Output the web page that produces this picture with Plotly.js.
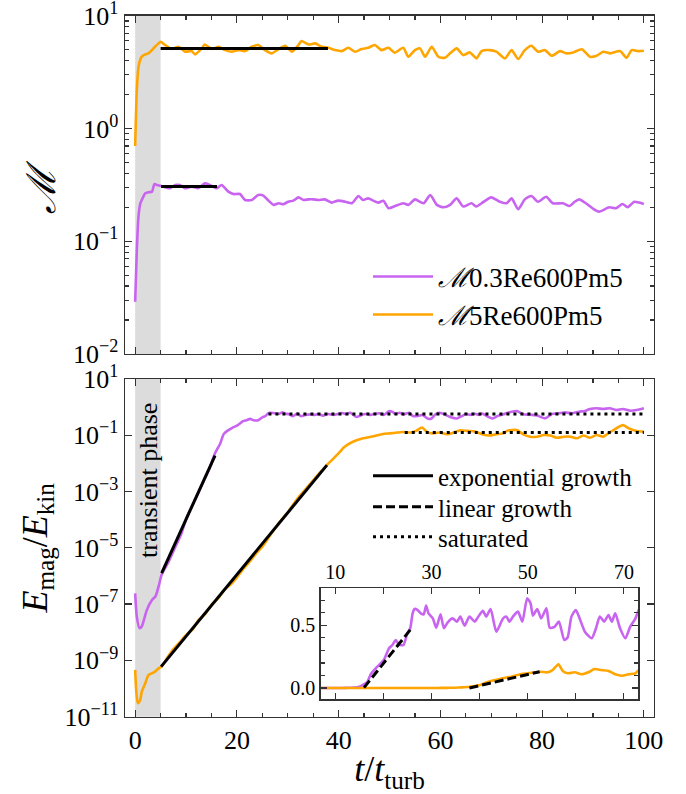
<!DOCTYPE html>
<html><head><meta charset="utf-8">
<script src="https://cdn.plot.ly/plotly-3.0.1.min.js"></script>
<style>html,body{margin:0;padding:0;background:#fff;}#plot{width:686px;height:794px;}</style>
</head><body><div id="plot"></div>
<script>
// ---------- Top panel: Mach number ----------
const tM03 = [0,0.33,0.65,1.0,1.3,2.0,2.6,3.3,3.8,4.3,5.0,5.9,6.9,7.9,8.8,9.8,11.1,12.4,13.7,14.7,16.0,17.0,18.3,19.3,20.6,21.6,22.9,24.2,25.2,26.2,27.2,28.2,29.1,30.1,31.1,32.1,33.1,34.1,35.0,36.0,37.3,38.6,39.9,41.3,42.6,43.9,44.8,45.8,46.8,47.8,48.8,49.8,51.1,52.7,53.7,55.0,56.7,58.0,59.3,60.6,61.9,63.2,64.5,66.1,67.1,68.1,70.0,71.7,73.0,74.0,75.3,76.6,77.9,79.2,80.8,82.1,84.1,85.4,86.4,87.3,88.6,89.9,91.2,93.2,94.5,95.8,96.8,98.1,99.1,100.0];
const M03 = [0.029,0.084,0.165,0.215,0.232,0.266,0.272,0.275,0.322,0.315,0.310,0.301,0.295,0.315,0.315,0.295,0.305,0.295,0.326,0.315,0.295,0.315,0.275,0.262,0.262,0.232,0.232,0.257,0.254,0.229,0.210,0.217,0.213,0.224,0.229,0.245,0.232,0.235,0.235,0.232,0.235,0.220,0.229,0.224,0.217,0.252,0.232,0.240,0.229,0.220,0.228,0.196,0.205,0.217,0.210,0.235,0.217,0.257,0.210,0.200,0.210,0.240,0.203,0.217,0.203,0.217,0.245,0.224,0.217,0.240,0.192,0.235,0.252,0.224,0.248,0.217,0.217,0.205,0.224,0.235,0.217,0.196,0.183,0.200,0.196,0.214,0.200,0.224,0.220,0.214];
const tM5 = [0,0.33,0.65,1.0,1.3,2.0,2.6,3.3,3.9,4.6,5.0,5.9,7.2,8.5,9.8,11.1,11.8,13.1,13.7,15.1,16.4,17.7,19.0,20.3,21.6,22.9,24.2,25.5,26.8,28.2,29.5,30.8,32.1,32.7,34.1,35.4,36.7,38.0,39.3,40.6,41.9,43.2,44.5,45.8,47.1,48.4,49.8,51.0,52.7,53.7,55.0,56.0,57.0,58.3,59.6,60.9,61.9,63.2,64.5,65.8,67.1,68.1,69.7,71.0,72.7,74.0,75.3,76.6,77.9,79.2,80.5,81.9,83.5,84.8,86.1,87.8,89.4,90.7,92.0,93.4,95.3,96.6,97.6,98.9,100.0];
const M5 = [0.70,2.2,3.5,4.1,4.33,4.54,4.64,4.96,5.31,5.69,5.88,5.50,5.07,5.31,4.80,4.86,4.54,5.14,5.57,5.07,5.31,4.96,4.80,4.96,4.86,5.31,5.50,4.96,4.64,5.07,5.42,4.80,5.50,5.97,5.57,5.69,5.31,5.20,4.96,4.86,5.20,4.80,5.07,5.20,5.50,4.96,5.20,4.70,5.20,4.33,4.96,5.14,4.33,5.31,4.33,4.24,4.64,5.14,4.48,4.73,4.19,4.86,4.96,4.80,4.19,4.96,4.13,4.96,5.42,4.80,4.96,4.42,4.86,4.64,4.73,5.04,4.33,4.42,4.80,4.64,4.86,4.24,4.96,4.86,4.90];
const machFitT03 = [5.1, 16.1], machFit03 = [0.305, 0.305];
const machFitT5 = [5.0, 37.9], machFit5 = [5.12, 5.12];

// ---------- Bottom panel: E_mag / E_kin ----------
const tR03 = [0,0.33,0.85,1.3,2.3,3.3,4.0,4.6,5.2,6.5,8.0,9.0,10.2,11.5,12.8,13.8,14.5,15.2,15.7,16.7,17.4,18.1,19.1,20.1,21.2,21.9,22.6,23.3,24.2,25.0,25.6,26.1,26.5,27.1,27.8,28.4,28.9,29.4,30.3,31.0,31.9,32.6,33.4,34.4,35.3,36.0,36.9,37.9,39.0,39.6,40.7,41.4,42.3,43.5,44.9,45.6,46.2,47.1,48.0,48.9,49.9,50.6,51.1,52.0,52.8,53.9,54.6,55.6,56.5,57.6,58.3,59.1,60.0,60.8,61.9,63.3,64.2,65.0,65.9,66.8,67.5,68.2,69.2,70.3,71.3,72.4,73.1,75.0,76.3,77.6,79.0,80.6,81.9,83.2,84.6,85.9,87.2,88.4,89.4,90.7,92.0,93.3,94.6,95.9,97.2,98.6,100.0];
const R03 = [2.4e-7,3.5e-8,1.4e-8,1.6e-8,6.2e-8,1.4e-7,1.9e-7,4.2e-7,1.1e-6,3.0e-6,1.2e-5,2.9e-5,1.3e-4,4.0e-4,1.3e-3,3.2e-3,5.9e-3,1.3e-2,2.3e-2,0.05,0.11,0.143,0.183,0.223,0.316,0.343,0.383,0.343,0.343,0.436,0.476,0.595,0.63,0.622,0.595,0.587,0.657,0.595,0.555,0.48,0.587,0.476,0.524,0.555,0.529,0.569,0.497,0.569,0.529,0.56,0.615,0.569,0.63,0.449,0.555,0.569,0.529,0.577,0.609,0.529,0.715,0.675,0.577,0.63,0.555,0.635,0.48,0.488,0.529,0.383,0.402,0.569,0.622,0.555,0.449,0.396,0.476,0.569,0.529,0.582,0.529,0.595,0.476,0.396,0.488,0.555,0.622,0.73,0.555,0.54,0.50,0.40,0.57,0.60,0.65,0.60,0.69,0.73,0.86,0.91,0.86,0.91,0.79,0.86,0.75,0.79,0.91];
const tR5 = [0,0.2,0.52,0.98,1.3,1.96,2.6,3.3,3.9,4.6,5.2,6.5,7.5,8.8,10.0,11.3,12.5,13.8,15.0,16.3,17.5,18.8,20.0,21.3,22.5,23.8,25.0,26.3,27.5,28.8,30.0,31.3,32.5,33.8,35.0,36.3,37.5,38.0,39.0,40.3,41.0,42.8,44.8,46.6,48.7,50.1,51.5,52.5,54.2,55.2,56.4,57.3,58.4,59.8,61.2,62.6,63.9,65.3,66.8,68.2,69.6,71.0,72.4,73.1,75.0,76.3,77.6,79.0,80.3,81.6,82.9,84.3,85.6,86.9,88.1,89.4,90.7,92.0,93.3,94.6,95.9,97.2,98.6,100.0];
const R5 = [4.6e-10,8.9e-11,3.0e-11,3.9e-11,7.8e-11,1.5e-10,3.0e-10,3.5e-10,4.0e-10,5.2e-10,6.0e-10,1.4e-9,2.5e-9,4.5e-9,7.9e-9,1.26e-8,2.8e-8,4.5e-8,9.5e-8,1.6e-7,3.2e-7,5.0e-7,8.9e-7,1.8e-6,3.2e-6,6.3e-6,1.1e-5,2.4e-5,5.0e-5,1.0e-4,1.8e-4,4.0e-4,7.6e-4,1.4e-3,2.5e-3,4.7e-3,7.9e-3,0.010,0.015,0.026,0.037,0.059,0.078,0.09,0.111,0.117,0.125,0.13,0.125,0.143,0.189,0.136,0.117,0.125,0.109,0.125,0.151,0.143,0.136,0.109,0.098,0.109,0.117,0.143,0.154,0.108,0.089,0.089,0.102,0.098,0.082,0.089,0.089,0.078,0.098,0.082,0.102,0.089,0.127,0.177,0.23,0.17,0.142,0.135];
const expT03 = [5.2, 15.7], expR03 = [1.26e-6, 1.9e-2];
const expT5 = [5.1, 37.7], expR5 = [6.0e-10, 8.7e-3];
const satT03 = [26.2, 100], satR03 = [0.57, 0.57];
const satT5 = [53.0, 100], satR5 = [0.125, 0.125];
const linT03 = [16.0, 25.6], linR03 = [0.003, 0.463];
const linT5 = [37.9, 52.5], linR5 = [0.0, 0.13];

// ---------- labels ----------
const names = ['<i>ℳ</i>0.3Re600Pm5', '<i>ℳ</i>5Re600Pm5'];
const fitNames = ['exponential growth', 'linear growth', 'saturated'];
const topTickVals = [0.01, 0.1, 1, 10];
const topTickText = ['10<sup>−2</sup>','10<sup>−1</sup>','10<sup>0</sup>','10<sup>1</sup>'];
const botTickVals = [1e1, 1e-1, 1e-3, 1e-5, 1e-7, 1e-9, 1e-11];
const botTickText = ['10<sup>1</sup>','10<sup>−1</sup>','10<sup>−3</sup>','10<sup>−5</sup>','10<sup>−7</sup>','10<sup>−9</sup>','10<sup>−11</sup>'];
const transientBand = [0, 5];

const PURPLE = '#c864f0', ORANGE = '#ffa500';
const FONT = 'Liberation Serif, DejaVu Serif, serif';
const LW = 2.6;
const SP = {shape:'spline', smoothing:0.6};

const traces = [
  {x: tM03, y: M03, xaxis:'x', yaxis:'y', mode:'lines', name: names[0], line:Object.assign({color:PURPLE, width:LW}, SP), legend:'legend'},
  {x: tM5, y: M5, xaxis:'x', yaxis:'y', mode:'lines', name: names[1], line:Object.assign({color:ORANGE, width:LW}, SP), legend:'legend2'},
  {x: machFitT03, y: machFit03, xaxis:'x', yaxis:'y', mode:'lines', line:{color:'black', width:3}, showlegend:false},
  {x: machFitT5, y: machFit5, xaxis:'x', yaxis:'y', mode:'lines', line:{color:'black', width:3}, showlegend:false},

  {x: tR03, y: R03, xaxis:'x2', yaxis:'y2', mode:'lines', line:Object.assign({color:PURPLE, width:LW}, SP), showlegend:false},
  {x: tR5, y: R5, xaxis:'x2', yaxis:'y2', mode:'lines', line:Object.assign({color:ORANGE, width:LW}, SP), showlegend:false},
  {x: expT03, y: expR03, xaxis:'x2', yaxis:'y2', mode:'lines', name: fitNames[0], line:{color:'black', width:3}, legend:'legend3'},
  {x: expT5, y: expR5, xaxis:'x2', yaxis:'y2', mode:'lines', line:{color:'black', width:3}, showlegend:false},
  {x: satT03, y: satR03, xaxis:'x2', yaxis:'y2', mode:'lines', name: fitNames[2], line:{color:'black', width:3, dash:'3px,4px'}, legend:'legend5'},
  {x: satT5, y: satR5, xaxis:'x2', yaxis:'y2', mode:'lines', line:{color:'black', width:3, dash:'3px,4px'}, showlegend:false},

  {x: tR03, y: R03, xaxis:'x3', yaxis:'y3', mode:'lines', line:Object.assign({color:PURPLE, width:LW}, SP), showlegend:false},
  {x: tR5, y: R5, xaxis:'x3', yaxis:'y3', mode:'lines', line:Object.assign({color:ORANGE, width:LW}, SP), showlegend:false},
  {x: linT03, y: linR03, xaxis:'x3', yaxis:'y3', mode:'lines', name: fitNames[1], line:{color:'black', width:3, dash:'9px,4px'}, legend:'legend4'},
  {x: linT5, y: linR5, xaxis:'x3', yaxis:'y3', mode:'lines', line:{color:'black', width:3, dash:'9px,4px'}, showlegend:false}
];

const AX = '#333';
const common = {showline:true, linecolor:AX, linewidth:1.4, mirror:'allticks', ticks:'inside', tickcolor:AX, tickwidth:1.2, showgrid:false, zeroline:false, ticklabeloverflow:'allow'};
function leg(yc, size) {
  return {x:368/686, y:1-yc/794, xanchor:'left', yanchor:'middle', bgcolor:'rgba(0,0,0,0)', font:{size:size, family:FONT}, itemwidth:60, borderwidth:0};
}

const layout = {
  width: 686, height: 794,
  margin: {l:0, r:0, t:0, b:0},
  paper_bgcolor:'white', plot_bgcolor:'white',
  font: {family: FONT, color:'black'},
  showlegend: true,
  xaxis: Object.assign({}, common, {domain:[0.1822,0.9534], anchor:'y', range:[-2,102], tick0:0, dtick:20, ticklen:7, showticklabels:false,
     minor:{dtick:5, ticklen:4, ticks:'inside', tickcolor:AX, tickwidth:1.2}}),
  yaxis: Object.assign({}, common, {domain:[0.5542,0.9802], anchor:'x', type:'log', range:[-2.0005,1.0005], tickmode:'array', tickvals:topTickVals, ticktext:topTickText, ticklen:7,
     tickfont:{size:26, family:FONT}, minor:{dtick:'D1', ticklen:4, ticks:'inside', tickcolor:AX, tickwidth:1.2}}),
  xaxis2: Object.assign({}, common, {domain:[0.1822,0.9534], anchor:'y2', range:[-2,102], tick0:0, dtick:20, ticklen:7,
     tickfont:{size:26, family:FONT}, minor:{dtick:5, ticklen:4, ticks:'inside', tickcolor:AX, tickwidth:1.2},
     title:{text:'<i>t</i>/<i>t</i><sub>turb</sub>', font:{size:36, family:FONT}, standoff:4}}),
  yaxis2: Object.assign({}, common, {domain:[0.0974,0.5227], anchor:'x2', type:'log', range:[-11.0005,1.0005], tickmode:'array', tickvals:botTickVals, ticktext:botTickText, ticklen:7,
     tickfont:{size:26, family:FONT},
     title:{text:'<i>E</i><sub>mag</sub>/<i>E</i><sub>kin</sub>', font:{size:36, family:FONT}, standoff:6}}),
  xaxis3: Object.assign({}, common, {domain:[0.4675,0.9305], anchor:'y3', side:'top', range:[7,73], tick0:10, dtick:20, ticklen:6,
     tickfont:{size:20, family:FONT}, minor:{dtick:10, ticklen:6, ticks:'inside', tickcolor:AX, tickwidth:1.2}}),
  yaxis3: Object.assign({}, common, {domain:[0.1193,0.2591], anchor:'x3', range:[-0.09,0.795], tick0:0, dtick:0.5, tickformat:'.1f', ticklen:6,
     tickfont:{size:20, family:FONT}, minor:{dtick:0.1, ticklen:4, ticks:'inside', tickcolor:AX, tickwidth:1.2}}),
  legend: leg(277, 27),
  legend2: leg(315, 27),
  legend3: leg(476, 25),
  legend4: leg(507, 25),
  legend5: leg(537, 25),
  shapes: [
    {type:'rect', xref:'x', yref:'y domain', x0:transientBand[0], x1:transientBand[1], y0:0, y1:1, fillcolor:'#dcdcdc', line:{width:0}, layer:'below'},
    {type:'rect', xref:'x2', yref:'y2 domain', x0:transientBand[0], x1:transientBand[1], y0:0, y1:1, fillcolor:'#dcdcdc', line:{width:0}, layer:'below'}
  ],
  annotations: [
    {text:'transient phase', xref:'x2', yref:'paper', x:(transientBand[0]+transientBand[1])/2, y:1-480/794, yanchor:'middle', xanchor:'center', textangle:-90, showarrow:false, font:{size:26, family:FONT}},
    {text:'<i>ℳ</i>', xref:'paper', yref:'paper', x:42/686, y:1-187/794, xanchor:'center', yanchor:'middle', textangle:-90, showarrow:false, font:{size:40, family:FONT}}
  ]
};

Plotly.newPlot('plot', traces, layout, {displayModeBar:false, staticPlot:true});
</script></body></html>
